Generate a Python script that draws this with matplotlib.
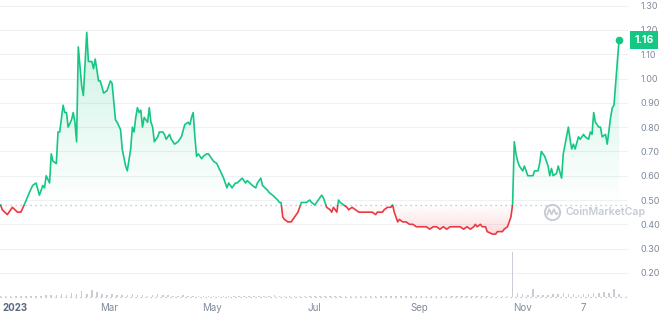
import numpy as np
import matplotlib.pyplot as plt
import matplotlib.transforms as mtransforms
from matplotlib.patches import Rectangle, PathPatch
from matplotlib.path import Path

plt.rcParams['font.family'] = ['Inter', 'DejaVu Sans']

# ---------------------------------------------------------------
# данные: день от 2023-01-01 и цена (USD)
# ---------------------------------------------------------------
days = [-5, -4, -1, 2, 5, 7, 9, 12, 14, 16, 18, 20, 21, 22, 24, 25, 26, 28, 29, 30,
        32, 33, 34, 35, 37, 38, 39, 40, 41, 43, 44, 46, 47, 49, 50, 51, 53, 54, 56, 58,
        60, 61, 63, 64, 66, 67, 69, 70, 72, 73, 74, 75, 76, 77, 78, 79, 80, 82, 83, 84,
        85, 86, 88, 89, 91, 92, 93, 95, 96, 98, 100, 101, 102, 104, 106, 107, 108, 109, 110, 111,
        112, 114, 115, 117, 118, 121, 123, 125, 127, 129, 130, 132, 134, 135, 138, 140, 141, 144, 146, 147,
        149, 150, 153, 154, 156, 159, 160, 161, 162, 163, 165, 166, 167, 169, 171, 173, 174, 176, 178, 179,
        181, 183, 185, 186, 188, 190, 191, 192, 194, 195, 196, 198, 200, 201, 203, 205, 207, 209, 211, 212,
        215, 217, 218, 221, 222, 224, 226, 227, 228, 230, 231, 233, 235, 237, 239, 241, 243, 245, 247, 249,
        251, 253, 255, 257, 259, 261, 263, 265, 267, 269, 271, 273, 275, 276, 277, 279, 280, 282, 283, 286,
        288, 289, 292, 293, 295, 297, 298, 299, 300, 301, 302, 304, 305, 307, 308, 309, 310, 311, 313, 314,
        315, 317, 319, 320, 321, 322, 324, 325, 327, 328, 331, 332, 333, 334, 335, 337, 338, 340, 341, 343,
        344, 345, 346, 347, 349, 350, 351, 353, 354, 356, 357, 358, 361]
price = [0.48, 0.46, 0.44, 0.47, 0.45, 0.45, 0.48, 0.53, 0.56, 0.57, 0.52, 0.56, 0.55, 0.60, 0.57, 0.69, 0.66, 0.65, 0.78, 0.78,
         0.89, 0.86, 0.86, 0.80, 0.83, 0.86, 0.82, 0.74, 1.13, 0.97, 0.93, 1.19, 1.07, 1.07, 1.04, 1.08, 0.99, 0.99, 0.94, 0.95,
         0.99, 0.98, 0.83, 0.82, 0.79, 0.71, 0.64, 0.62, 0.71, 0.80, 0.78, 0.84, 0.88, 0.86, 0.87, 0.80, 0.84, 0.82, 0.88, 0.82,
         0.80, 0.74, 0.76, 0.78, 0.78, 0.77, 0.75, 0.77, 0.75, 0.73, 0.74, 0.75, 0.76, 0.81, 0.82, 0.81, 0.84, 0.86, 0.76, 0.68,
         0.69, 0.67, 0.68, 0.69, 0.69, 0.66, 0.65, 0.62, 0.59, 0.55, 0.57, 0.55, 0.57, 0.57, 0.59, 0.57, 0.58, 0.56, 0.55, 0.57,
         0.59, 0.56, 0.54, 0.53, 0.52, 0.50, 0.49, 0.49, 0.43, 0.42, 0.41, 0.41, 0.41, 0.43, 0.45, 0.49, 0.49, 0.49, 0.50, 0.49,
         0.48, 0.50, 0.52, 0.51, 0.47, 0.46, 0.45, 0.47, 0.45, 0.50, 0.49, 0.48, 0.47, 0.46, 0.47, 0.46, 0.45, 0.45, 0.45, 0.45,
         0.45, 0.44, 0.45, 0.45, 0.46, 0.47, 0.47, 0.48, 0.45, 0.41, 0.42, 0.41, 0.41, 0.40, 0.40, 0.39, 0.39, 0.39, 0.39, 0.38,
         0.39, 0.39, 0.38, 0.39, 0.38, 0.39, 0.39, 0.39, 0.39, 0.38, 0.39, 0.38, 0.39, 0.40, 0.39, 0.40, 0.39, 0.39, 0.37, 0.36,
         0.36, 0.37, 0.37, 0.38, 0.39, 0.43, 0.48, 0.74, 0.69, 0.66, 0.64, 0.62, 0.64, 0.60, 0.60, 0.60, 0.60, 0.62, 0.62, 0.65,
         0.70, 0.68, 0.64, 0.60, 0.63, 0.60, 0.61, 0.64, 0.59, 0.69, 0.80, 0.75, 0.71, 0.73, 0.71, 0.76, 0.75, 0.77, 0.76, 0.75,
         0.78, 0.77, 0.86, 0.82, 0.80, 0.80, 0.76, 0.77, 0.73, 0.84, 0.88, 0.89, 1.16]
open_price = 0.48

# объём торгов (условные единицы), шаг 3 дня начиная с -5
volume = [1, 1, 1, 1, 1, 1, 1, 1, 1, 2,
          2, 2, 3, 2, 4, 3, 6, 3, 7, 5,
          3, 2, 3, 2, 2, 2, 3, 2, 2, 1,
          2, 3, 2, 2, 1, 1, 2, 1, 1, 1,
          1, 1, 1, 1, 1, 1, 1, 1, 1, 1,
          1, 1, 1, 1, 2, 1, 1, 1, 1, 1,
          1, 1, 1, 1, 1, 1, 1, 1, 1, 1,
          1, 1, 1, 1, 1, 1, 1, 1, 1, 1,
          1, 1, 1, 1, 1, 1, 1, 1, 1, 1,
          1, 1, 1, 1, 1, 1, 1, 1, 1, 1,
          1, 45, 4, 3, 2, 8, 2, 2, 2, 3,
          3, 4, 3, 3, 2, 3, 3, 4, 4, 5, 4, 8, 3]
vol_days = np.arange(len(volume)) * 3 - 5

tick_days = [0, 59, 120, 181, 243, 304, 340]
tick_labels = ['2023', 'Mar', 'May', 'Jul', 'Sep', 'Nov', '7']
price_ticks = [0.20, 0.30, 0.40, 0.50, 0.60, 0.70, 0.80, 0.90, 1.00, 1.10, 1.20, 1.30]

GREEN = '#16c784'
RED = '#ea3943'
GRAY = '#808a9d'

# ---------------------------------------------------------------
fig = plt.figure(figsize=(6.63, 3.16), dpi=100)
rect = [0, 19 / 316, 628 / 663, 297 / 316]
ax = fig.add_axes(rect)
XL = (-5.33, 366.3)
YL = (0.101, 1.323)

# градиентная заливка между линией и ценой открытия
fb = ax.fill_between(days, price, open_price, facecolor='none', edgecolor='none')
clip = PathPatch(fb.get_paths()[0], transform=ax.transData, facecolor='none', edgecolor='none')
ax.add_patch(clip)

def grad(color, a_lo, a_hi):
    g = np.zeros((100, 1, 4))
    g[:, 0, :3] = plt.matplotlib.colors.to_rgb(color)
    g[:, 0, 3] = np.linspace(a_lo, a_hi, 100)
    return g

im_g = ax.imshow(grad(GREEN, 0.0, 0.22), extent=[XL[0], XL[1], open_price, max(price)],
                 origin='lower', aspect='auto', zorder=1)
im_g.set_clip_path(clip)
im_r = ax.imshow(grad(RED, 0.18, 0.0), extent=[XL[0], XL[1], min(price), open_price],
                 origin='lower', aspect='auto', zorder=1)
im_r.set_clip_path(clip)

# линия: зелёная выше открытия, красная ниже
ln_g, = ax.plot(days, price, color=GREEN, lw=1.2, zorder=3, solid_joinstyle='round')
ln_g.set_clip_path(Rectangle((-50, open_price), 500, 5, transform=ax.transData))
ln_r, = ax.plot(days, price, color=RED, lw=1.2, zorder=3, solid_joinstyle='round')
ln_r.set_clip_path(Rectangle((-50, -5), 500, open_price + 5, transform=ax.transData))
ax.plot(days[-1], price[-1], 'o', ms=4.5, color=GREEN, zorder=4)

ax.axhline(open_price, color='#b4b9c2', lw=0.9, ls=(0, (1, 3)), zorder=2)

ax.set_xlim(*XL)
ax.set_ylim(*YL)
ax.yaxis.tick_right()
ax.set_yticks(price_ticks)
ax.set_yticklabels([f'{v:.2f}' for v in price_ticks])
ax.grid(axis='y', color='#eff2f5', lw=0.8, zorder=0)
ax.set_axisbelow(True)
ax.tick_params(axis='y', length=0, pad=9, labelsize=6.5, labelcolor=GRAY)
ax.set_xticks(tick_days)
ax.set_xticklabels(tick_labels)
ax.tick_params(axis='x', length=0, pad=4, labelsize=7, labelcolor=GRAY)
lbl0 = ax.get_xticklabels()[0]
lbl0.set_color('#58667e')
lbl0.set_fontweight('bold')
lbl0.set_horizontalalignment('left')
lbl0.set_transform(lbl0.get_transform() +
                   mtransforms.ScaledTranslation(-7 / 100, 0, fig.dpi_scale_trans))
for s in ax.spines.values():
    s.set_visible(False)

# объём внизу (отдельные оси поверх, без подписей)
ax2 = fig.add_axes(rect)
ax2.patch.set_visible(False)
ax2.bar(vol_days, volume, width=0.9, color='#c9ced6', zorder=2)
ax2.set_ylim(0, 297)
ax2.set_xlim(*XL)
ax2.set_xticks([])
ax2.set_yticks([])
ax2.axhline(0, color='#b4b9c2', lw=0.9, ls=(0, (1, 3)), clip_on=False)
for s in ax2.spines.values():
    s.set_visible(False)

# метка текущей цены
ax2.annotate(f'{price[-1]:.2f}', xy=(1, (price[-1] - YL[0]) / (YL[1] - YL[0])),
             xycoords='axes fraction', xytext=(11.5, 0), textcoords='offset points',
             ha='center', va='center', fontsize=7.5, fontweight='bold', color='white',
             bbox=dict(boxstyle='square,pad=0.38', fc=GREEN, ec='none'),
             annotation_clip=False, zorder=10)

# водяной знак
wm = '#c6cbd3'
ax2.plot([552 / 628], [85 / 297], 'o', ms=11, mfc='none', mec=wm, mew=1.4,
         transform=ax2.transAxes, clip_on=False, zorder=1)
mpath = Path([(-0.6, -0.3), (-0.35, 0.35), (-0.1, -0.2), (0.15, 0.35), (0.4, -0.2), (0.6, 0.0)])
ax2.plot([552 / 628], [85 / 297], marker=mpath, ms=8, mfc='none', mec=wm, mew=1.2,
         transform=ax2.transAxes, clip_on=False, zorder=1)
ax2.text(565 / 628, 85 / 297, 'CoinMarketCap', transform=ax2.transAxes, ha='left', va='center',
         fontsize=7.6, fontweight='semibold', color=wm, clip_on=False, zorder=1)

fig.savefig('out.png', dpi=100)
